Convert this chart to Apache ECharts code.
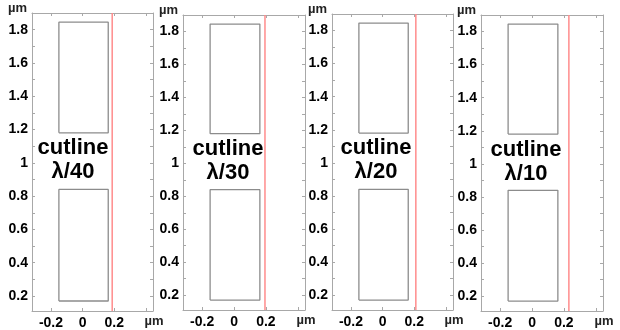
<!DOCTYPE html>
<html>
<head>
<meta charset="utf-8">
<script src="https://cdn.jsdelivr.net/npm/echarts@6/dist/echarts.min.js"></script>
<style>html,body{margin:0;padding:0;background:#fff;}#c{width:620px;height:330px;}</style>
</head>
<body>
<div id="c"></div>
<script>
// ---- data ----
const xRange = [-0.32, 0.445];
const yRange = [0.11, 1.9];
const rectX = [-0.15, 0.162];
const lowerRectY = [0.17, 0.84];
const upperRectY = [1.18, 1.845];
const cutlineX = [0.187, 0.194, 0.21, 0.231];
const panelLabels = ['λ/40', 'λ/30', 'λ/20', 'λ/10'];
const xTickLabels = [-0.2, 0, 0.2];
const xTickMarks = [-0.2, 0, 0.2, 0.4];
const yTickLabels = [0.2, 0.4, 0.6, 0.8, 1, 1.2, 1.4, 1.6, 1.8];
const yTickMarks = [0.2, 0.3, 0.4, 0.5, 0.6, 0.7, 0.8, 0.9, 1, 1.1, 1.2, 1.3, 1.4, 1.5, 1.6, 1.7, 1.8];
const unit = 'µm';

// ---- layout ----
const grids = [
  {left: 32, top: 13, width: 121, height: 298},
  {left: 183, top: 15, width: 122, height: 295},
  {left: 332, top: 14, width: 121, height: 296},
  {left: 481, top: 15, width: 122, height: 296}
];
const textPos = [[73, 160], [228, 161], [376, 160], [526, 162]];

const FONT = '"Liberation Sans", Arial, sans-serif';
const frameColor = '#a8a8a8';

function rectPoints(xs, ys) {
  return [[xs[0], ys[0]], [xs[1], ys[0]], [xs[1], ys[1]], [xs[0], ys[1]], [xs[0], ys[0]]];
}
function fmt(v) { return String(+(+v).toFixed(1)); }

const option = {
  animation: false,
  backgroundColor: '#fff',
  grid: grids.map(g => Object.assign({containLabel: false}, g)),
  xAxis: [], yAxis: [], series: [], graphic: []
};

grids.forEach((g, i) => {
  // bottom x axis
  option.xAxis.push({
    type: 'value', gridIndex: i, position: 'bottom', min: xRange[0], max: xRange[1],
    name: unit, nameLocation: 'end', nameGap: 1,
    nameTextStyle: {fontFamily: FONT, fontSize: 13, fontWeight: 'bold', color: '#222', align: 'center', verticalAlign: 'top', padding: [4, 0, 0, 0]},
    axisLine: {show: true, onZero: false, lineStyle: {color: frameColor, width: 1}},
    axisTick: {show: true, inside: true, length: 3, customValues: xTickMarks, lineStyle: {color: frameColor}},
    axisLabel: {show: true, customValues: xTickLabels, formatter: fmt, margin: 5, fontFamily: FONT, fontSize: 14, fontWeight: 'bold', color: '#000'},
    splitLine: {show: false}
  });
  // top x axis (frame)
  option.xAxis.push({
    type: 'value', gridIndex: i, position: 'top', min: xRange[0], max: xRange[1],
    axisLine: {show: true, onZero: false, lineStyle: {color: frameColor, width: 1}},
    axisTick: {show: true, inside: true, length: 3, customValues: xTickMarks, lineStyle: {color: frameColor}},
    axisLabel: {show: false}, splitLine: {show: false}
  });
  // left y axis
  option.yAxis.push({
    type: 'value', gridIndex: i, position: 'left', min: yRange[0], max: yRange[1],
    name: unit, nameLocation: 'end', nameGap: 5,
    nameTextStyle: {fontFamily: FONT, fontSize: 13, fontWeight: 'bold', color: '#222', align: 'right', verticalAlign: 'middle', padding: [0, 5, 0, 0]},
    axisLine: {show: true, onZero: false, lineStyle: {color: frameColor, width: 1}},
    axisTick: {show: true, inside: true, length: 3, customValues: yTickMarks, lineStyle: {color: frameColor}},
    axisLabel: {show: true, customValues: yTickLabels, formatter: fmt, margin: 4, fontFamily: FONT, fontSize: 14, fontWeight: 'bold', color: '#000'},
    splitLine: {show: false}
  });
  // right y axis (frame)
  option.yAxis.push({
    type: 'value', gridIndex: i, position: 'right', min: yRange[0], max: yRange[1],
    axisLine: {show: true, onZero: false, lineStyle: {color: frameColor, width: 1}},
    axisTick: {show: true, inside: true, length: 3, customValues: yTickMarks, lineStyle: {color: frameColor}},
    axisLabel: {show: false}, splitLine: {show: false}
  });

  const xi = i * 2, yi = i * 2;
  [lowerRectY, upperRectY].forEach(ys => {
    option.series.push({
      type: 'line', xAxisIndex: xi, yAxisIndex: yi, data: rectPoints(rectX, ys),
      symbol: 'none', silent: true,
      lineStyle: {color: '#8c8c8c', width: 1.3}
    });
  });
  option.series.push({
    type: 'line', xAxisIndex: xi, yAxisIndex: yi,
    data: [[cutlineX[i], yRange[0]], [cutlineX[i], yRange[1]]],
    symbol: 'none', silent: true,
    lineStyle: {color: '#ff8c8c', width: 1.5}
  });

  option.graphic.push({
    type: 'text', x: textPos[i][0], y: textPos[i][1], silent: true,
    style: {
      text: 'cutline\n' + panelLabels[i], fill: '#000',
      font: 'bold 22px ' + FONT, align: 'center', verticalAlign: 'middle', lineHeight: 24
    }
  });
});

const chart = echarts.init(document.getElementById('c'), null, {renderer: 'canvas'});
chart.setOption(option);
</script>
</body>
</html>
